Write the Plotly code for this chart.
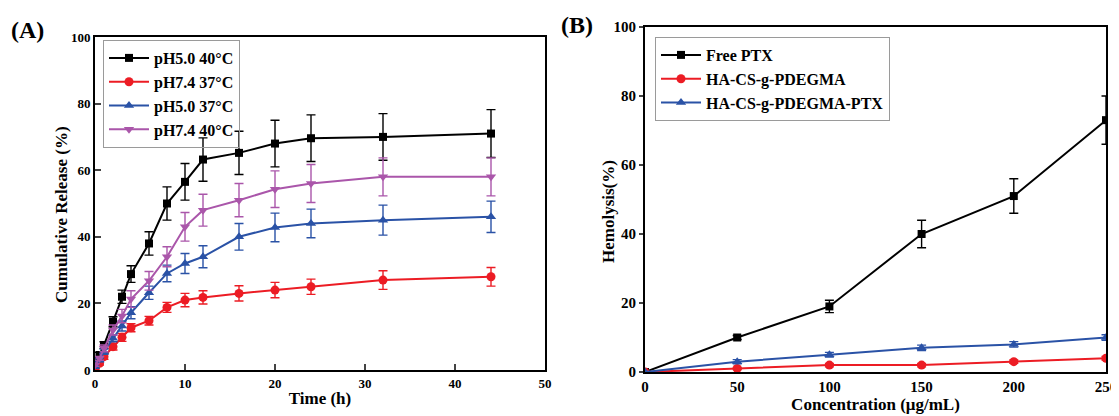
import plotly.graph_objects as go

# ---------- Panel A data ----------
time_h = [0, 0.5, 1, 2, 3, 4, 6, 8, 10, 12, 16, 20, 24, 32, 44]
a_names = ["pH5.0 40°C", "pH7.4 37°C", "pH5.0 37°C", "pH7.4 40°C"]
a_ph50_40 = [2, 4.5, 7.5, 14.5, 22, 28.8, 38, 50, 56.5, 63.2, 65.2, 68, 69.6, 70, 71]
a_ph74_37 = [0.5, 2, 4, 7, 9.8, 12.7, 14.8, 18.8, 21, 21.8, 23, 24, 25, 27, 28]
a_ph50_37 = [1, 3, 5.5, 9.5, 13.2, 17.2, 23.2, 29, 32, 34, 40, 42.8, 44, 45, 46]
a_ph74_40 = [1.5, 3.5, 6.5, 12, 16.2, 21.3, 26.8, 34, 43, 48, 51, 54.3, 56, 58, 58]
a_err_ph50_40 = [0.5, 0.8, 1, 1.5, 2, 2.5, 3.5, 5, 5.5, 6.5, 6.5, 7, 7, 7, 7.2]
a_err_ph74_37 = [0.3, 0.5, 0.8, 1, 1.2, 1.2, 1.3, 1.5, 2, 2, 2.3, 2.3, 2.3, 2.8, 2.8]
a_err_ph50_37 = [0.3, 0.5, 0.8, 1, 1.5, 1.8, 2, 2.5, 3, 3.3, 4, 4.3, 4.3, 4.5, 4.7]
a_err_ph74_40 = [0.4, 0.6, 1, 1.5, 2, 2.5, 2.8, 3, 4.3, 4.8, 5, 5.5, 5.7, 5.7, 5.7]

# ---------- Panel B data ----------
conc = [0, 50, 100, 150, 200, 250]
b_names = ["Free PTX", "HA-CS-g-PDEGMA", "HA-CS-g-PDEGMA-PTX"]
b_free = [0, 10, 19, 40, 51, 73]
b_carrier = [0, 1, 2, 2, 3, 4]
b_loaded = [0, 3, 5, 7, 8, 10]
b_err_free = [0, 0.6, 1.8, 4, 5, 7]
b_err_carrier = [0, 0.3, 0.5, 0.5, 0.5, 0.5]
b_err_loaded = [0, 0.6, 0.7, 0.8, 0.8, 0.8]

BLACK = "#000000"
RED = "#ec1c24"
BLUE = "#2a52a6"
PURPLE = "#aa56aa"
FONT = "Liberation Serif"

# page body adds an 8px offset; figure is sized to the remaining window
OFF = 8
W, H = 1119 - OFF, 416 - OFF

fig = go.Figure()

a_series = [
    (a_names[0], a_ph50_40, a_err_ph50_40, BLACK, "square", 8),
    (a_names[1], a_ph74_37, a_err_ph74_37, RED, "circle", 9),
    (a_names[2], a_ph50_37, a_err_ph50_37, BLUE, "triangle-up", 9),
    (a_names[3], a_ph74_40, a_err_ph74_40, PURPLE, "triangle-down", 9),
]
for name, ys, es, col, sym, sz in a_series:
    fig.add_trace(go.Scatter(
        x=time_h, y=ys, name=name, mode="lines+markers",
        line=dict(color=col, width=2),
        marker=dict(color=col, symbol=sym, size=sz),
        error_y=dict(type="data", array=es, visible=True, color=col, thickness=1.4, width=4.5),
        xaxis="x", yaxis="y", legend="legend",
    ))

b_series = [
    (b_names[0], b_free, b_err_free, BLACK, "square", 8),
    (b_names[1], b_carrier, b_err_carrier, RED, "circle", 9),
    (b_names[2], b_loaded, b_err_loaded, BLUE, "triangle-up", 9),
]
for name, ys, es, col, sym, sz in b_series:
    fig.add_trace(go.Scatter(
        x=conc, y=ys, name=name, mode="lines+markers",
        line=dict(color=col, width=2),
        marker=dict(color=col, symbol=sym, size=sz),
        error_y=dict(type="data", array=es, visible=True, color=col, thickness=1.4, width=4.5),
        xaxis="x2", yaxis="y2", legend="legend2",
    ))

def px_x(p):
    return (p - OFF) / W

def px_y(p):
    return 1 - (p - OFF) / H

tickfont = dict(family=FONT, size=13, color="black", weight="bold")
tickfont_b = dict(family=FONT, size=15, color="black", weight="bold")
titlefont = dict(family=FONT, size=17, color="black", weight="bold")
legfont = dict(family=FONT, size=16, color="black", weight="bold")
labelfont = dict(family=FONT, size=24, color="black", weight="bold")

common = dict(showline=True, linecolor="black", linewidth=2, mirror=True,
              showgrid=False, zeroline=False, automargin=False)

def ann(text, x, y, font, angle=0):
    return dict(text=text, x=px_x(x), y=px_y(y), xref="paper", yref="paper",
                xanchor="center", yanchor="middle", textangle=angle,
                showarrow=False, font=font)

fig.update_layout(
    width=W, height=H,
    margin=dict(l=0, r=0, t=0, b=0, autoexpand=False),
    paper_bgcolor="white", plot_bgcolor="white",
    font=dict(family=FONT, color="black"),
    xaxis=dict(domain=[px_x(95), px_x(545)], range=[0, 50], tickvals=[0, 10, 20, 30, 40, 50],
               ticks="inside", ticklen=6, tickwidth=2, anchor="y", tickfont=tickfont,
               title=dict(text="Time (h)", font=titlefont, standoff=3), **common),
    yaxis=dict(domain=[px_y(370), px_y(37)], range=[0, 100], tickvals=[0, 20, 40, 60, 80, 100],
               ticks="inside", ticklen=6, tickwidth=2, anchor="x", tickfont=tickfont, **common),
    xaxis2=dict(domain=[px_x(645), px_x(1106)], range=[0, 250], tickvals=[0, 50, 100, 150, 200, 250],
                ticks="", anchor="y2", tickfont=tickfont_b,
                title=dict(text="Concentration (μg/mL)", font=titlefont, standoff=3), **common),
    yaxis2=dict(domain=[px_y(372), px_y(27)], range=[0, 100], tickvals=[0, 20, 40, 60, 80, 100],
                ticks="outside", ticklen=4, tickwidth=2, anchor="x2", tickfont=tickfont_b, **common),
    legend=dict(x=px_x(103), y=px_y(40), xanchor="left", yanchor="top",
                bgcolor="rgba(255,255,255,0)", bordercolor="#9a9a9a", borderwidth=1,
                font=legfont, tracegroupgap=0, itemwidth=40),
    legend2=dict(x=px_x(655), y=px_y(37), xanchor="left", yanchor="top",
                 bgcolor="rgba(255,255,255,0)", bordercolor="#9a9a9a", borderwidth=1,
                 font=legfont, tracegroupgap=0, itemwidth=40),
    annotations=[
        ann("(A)", 27, 30, labelfont),
        ann("(B)", 577, 25, labelfont),
        ann("Cumulative Release (%)", 61, 215, titlefont, -90),
        ann("Hemolysis(%)", 608, 212, titlefont, -90),
    ],
)

fig.write_html("out.html")
